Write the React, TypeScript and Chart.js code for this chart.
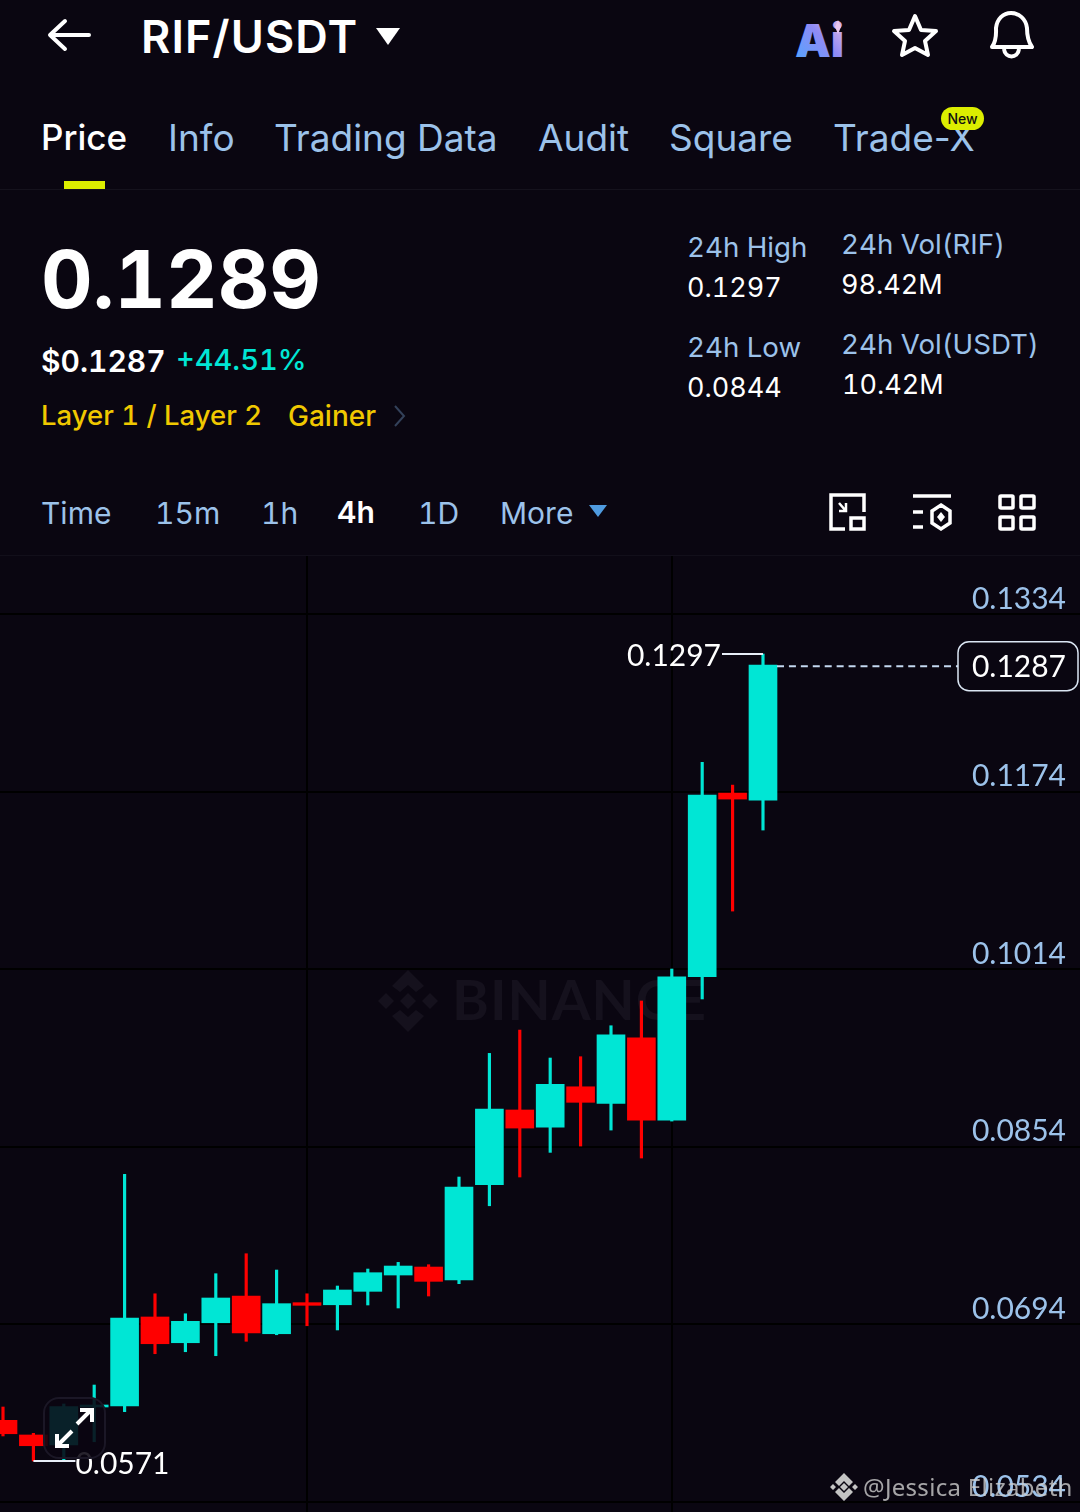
import React, { useEffect, useRef } from "react";
import { Chart, registerables } from "chart.js";

Chart.register(...registerables);

const candleIndex = [0, 1, 2, 3, 4, 5, 6, 7, 8, 9, 10, 11, 12, 13, 14, 15, 16, 17, 18, 19, 20, 21, 22, 23, 24, 25];
const opens = [0.06076, 0.05944, 0.05854, 0.06196, 0.06205, 0.07007, 0.06775, 0.06955, 0.07196, 0.06856, 0.07136, 0.07117, 0.07238, 0.07385, 0.07457, 0.0734, 0.08199, 0.08872, 0.08718, 0.09081, 0.08932, 0.09523, 0.08781, 0.10072, 0.11727, 0.11664];
const closes = [0.05955, 0.05847, 0.06199, 0.06214, 0.06998, 0.06766, 0.06968, 0.07178, 0.06863, 0.07127, 0.07112, 0.0725, 0.07406, 0.07466, 0.07328, 0.08178, 0.08881, 0.08709, 0.09103, 0.08941, 0.0955, 0.08781, 0.10072, 0.11709, 0.11673, 0.1288];
const highs = [0.06196, 0.05959, 0.06223, 0.06394, 0.08292, 0.07216, 0.07036, 0.07397, 0.07577, 0.0743, 0.07216, 0.07286, 0.07439, 0.07499, 0.07478, 0.08268, 0.09382, 0.09592, 0.0934, 0.09352, 0.09631, 0.09854, 0.10142, 0.12004, 0.11799, 0.1298];
const lows = [0.05935, 0.0571, 0.0572, 0.05883, 0.06154, 0.06676, 0.06694, 0.06658, 0.06788, 0.06847, 0.06928, 0.0689, 0.07115, 0.07088, 0.07196, 0.07307, 0.08009, 0.08268, 0.0849, 0.08547, 0.08691, 0.08439, 0.08772, 0.09872, 0.10664, 0.11394];
const yTicks = [0.1334, 0.1174, 0.1014, 0.0854, 0.0694, 0.0534];
const xGridAt = [10, 22];
const highLabel = { index: 25, value: 0.1298, text: "0.1297" };
const lowLabel = { index: 1, value: 0.0571, text: "0.0571" };
const lastPrice = { value: 0.1287, text: "0.1287" };

const BG = "#0a0611";
const UP = "#00e6d5";
const DOWN = "#ff0000";
const BLUE = "#9cc2ea";
const FONT = "Inter";
const AXIS_FONT = "Lato";

type TP = { x: number; y: number; s: number; c?: string; w?: number; t: string; ls?: number };
const texts: TP[] = [
  { x: 142, y: 36, s: 45, c: "#fff", w: 600, t: "RIF/USDT", ls: 1.1 },
  { x: 42, y: 137, s: 35, c: "#fff", w: 500, t: "Price" },
  { x: 169, y: 137, s: 37, c: BLUE, w: 400, t: "Info" },
  { x: 275, y: 137, s: 37, c: BLUE, w: 400, t: "Trading Data" },
  { x: 539, y: 137, s: 37, c: BLUE, w: 400, t: "Audit" },
  { x: 670, y: 137, s: 37, c: BLUE, w: 400, t: "Square" },
  { x: 834, y: 137, s: 37, c: BLUE, w: 400, t: "Trade-X" },
  { x: 42, y: 279, s: 80, c: "#fff", w: 700, t: "0.1289" },
  { x: 42, y: 361, s: 30, c: "#fff", w: 600, t: "$0.1287" },
  { x: 177, y: 359, s: 29, c: UP, w: 500, t: "+44.51%" },
  { x: 42, y: 416, s: 27.5, c: "#f0c800", w: 500, t: "Layer 1 / Layer 2" },
  { x: 289, y: 416, s: 28, c: "#f0c800", w: 500, t: "Gainer" },
  { x: 688, y: 248, s: 27.7, c: BLUE, t: "24h High" },
  { x: 688, y: 287, s: 27, c: "#fff", t: "0.1297" },
  { x: 842, y: 245, s: 27.7, c: BLUE, t: "24h Vol(RIF)" },
  { x: 842, y: 284, s: 27, c: "#fff", t: "98.42M" },
  { x: 688, y: 348, s: 27.7, c: BLUE, t: "24h Low" },
  { x: 688, y: 387, s: 27, c: "#fff", t: "0.0844" },
  { x: 842, y: 345, s: 27.7, c: BLUE, t: "24h Vol(USDT)" },
  { x: 843, y: 384, s: 27, c: "#fff", t: "10.42M" },
  { x: 42, y: 513, s: 30, c: BLUE, t: "Time" },
  { x: 156, y: 513, s: 30, c: BLUE, t: "15m" },
  { x: 262, y: 513, s: 30, c: BLUE, t: "1h" },
  { x: 338, y: 512, s: 30, c: "#fff", w: 600, t: "4h" },
  { x: 419, y: 513, s: 30, c: BLUE, t: "1D" },
  { x: 501, y: 513, s: 30, c: BLUE, t: "More" },
];

function Txt({ x, y, s, c, w, t, ls }: TP) {
  return (
    <div style={{ position: "absolute", left: x - 1, top: y, transform: "translateY(-50%)", fontFamily: FONT, fontSize: s, color: c, fontWeight: w ?? 400, lineHeight: 1, whiteSpace: "nowrap", letterSpacing: ls ?? 0, fontVariantNumeric: /\d/.test(t) ? "tabular-nums" : "normal" }}>
      {t}
    </div>
  );
}

const rectBox = (x: number, y: number, w: number, h: number, bg: string, extra: any = {}) => (
  <div style={{ position: "absolute", left: x, top: y, width: w, height: h, background: bg, ...extra }} />
);

const overlayPlugin = {
  id: "priceOverlay",
  afterDatasetsDraw(chart: any) {
    const { ctx, scales } = chart;
    const xs = scales.x;
    const ys = scales.y;
    ctx.save();
    ctx.font = `400 30px ${AXIS_FONT}`;
    ctx.textBaseline = "middle";
    ctx.fillStyle = "#fff";
    ctx.strokeStyle = "#e8eef8";
    ctx.lineWidth = 2;
    const hx = xs.getPixelForValue(highLabel.index);
    const hy = ys.getPixelForValue(highLabel.value);
    ctx.beginPath();
    ctx.moveTo(hx, hy);
    ctx.lineTo(hx - 41, hy);
    ctx.stroke();
    ctx.textAlign = "right";
    ctx.fillText(highLabel.text, hx - 42, hy + 2);
    const lx = xs.getPixelForValue(lowLabel.index);
    const ly = ys.getPixelForValue(lowLabel.value);
    ctx.beginPath();
    ctx.moveTo(lx, ly);
    ctx.lineTo(lx + 42, ly);
    ctx.stroke();
    ctx.textAlign = "left";
    ctx.fillText(lowLabel.text, lx + 42, ly + 3);
    const py = ys.getPixelForValue(lastPrice.value);
    ctx.strokeStyle = "#c4d8f0";
    ctx.setLineDash([7, 4.93]);
    ctx.beginPath();
    ctx.moveTo(xs.getPixelForValue(25) + 14, py);
    ctx.lineTo(958, py);
    ctx.stroke();
    ctx.setLineDash([]);
    ctx.fillStyle = BG;
    ctx.strokeStyle = "#dbe6f4";
    ctx.lineWidth = 1.5;
    ctx.beginPath();
    ctx.roundRect(958, py - 24.5, 120, 49, 11);
    ctx.fill();
    ctx.stroke();
    ctx.fillStyle = "#fff";
    ctx.textAlign = "right";
    ctx.fillText(lastPrice.text, 1066, py + 1);
    ctx.restore();
  },
};

const noPadding = (axis: any) => {
  axis.paddingTop = 0;
  axis.paddingBottom = 0;
  axis.paddingLeft = 0;
  axis.paddingRight = 0;
};

export default function App() {
  const ref = useRef<HTMLCanvasElement>(null);
  useEffect(() => {
    document.body.style.margin = "0";
    document.body.style.background = BG;
    const colors = opens.map((o, i) => (closes[i] >= o ? UP : DOWN));
    const chart = new Chart(ref.current as HTMLCanvasElement, {
      type: "bar",
      data: {
        datasets: [
          {
            label: "wick",
            data: candleIndex.map((i) => ({ x: i, y: [lows[i], highs[i]] })) as any,
            backgroundColor: colors,
            barThickness: 2.5,
            grouped: false,
            order: 2,
          } as any,
          {
            label: "body",
            data: candleIndex.map((i) => ({ x: i, y: [opens[i], closes[i]] })) as any,
            backgroundColor: colors,
            barThickness: 28,
            grouped: false,
            order: 1,
          } as any,
        ],
      },
      options: {
        animation: false,
        responsive: false,
        devicePixelRatio: 1,
        layout: { padding: 0 },
        plugins: { legend: { display: false }, tooltip: { enabled: false } },
        scales: {
          x: {
            type: "linear",
            offset: false,
            min: -0.0987,
            max: 35.428,
            afterBuildTicks: (axis: any) => {
              axis.ticks = xGridAt.map((v) => ({ value: v }));
            },
            afterFit: (axis: any) => {
              noPadding(axis);
              axis.height = 0;
            },
            ticks: { display: false },
            border: { display: false },
            grid: { color: "#000", lineWidth: 2, drawTicks: false, offset: false },
          },
          y: {
            type: "linear",
            position: "right",
            min: 0.0525,
            max: 0.13863,
            afterBuildTicks: (axis: any) => {
              axis.ticks = yTicks.map((v) => ({ value: v }));
            },
            afterFit: noPadding,
            ticks: {
              mirror: true,
              padding: -14,
              labelOffset: -15,
              color: BLUE,
              font: { family: AXIS_FONT, size: 30, weight: "400" },
              callback: (v: any) => Number(v).toFixed(4),
              autoSkip: false,
            },
            border: { display: false },
            grid: { color: "#000", lineWidth: 2, drawTicks: false },
          },
        },
      } as any,
      plugins: [overlayPlugin as any],
    });
    return () => chart.destroy();
  }, []);

  return (
    <div style={{ position: "relative", width: 1080, height: 1512, overflow: "hidden", background: BG }}>
      {texts.map((t) => <Txt key={t.t + t.x + t.y} {...t} />)}

      <svg width={1080} height={556} style={{ position: "absolute", left: 0, top: 0 }}>
        <defs>
          <linearGradient id="ai" x1="0" y1="1" x2="1" y2="0">
            <stop offset="0" stopColor="#4aa8ff" />
            <stop offset="0.55" stopColor="#8f8bf5" />
            <stop offset="1" stopColor="#f3c4e4" />
          </linearGradient>
        </defs>
        <path d="M89 35H51M65 21L50 35L65 49" fill="none" stroke="#fff" strokeWidth="4" strokeLinecap="round" strokeLinejoin="round" />
        <path d="M376 28H400L388 45Z" fill="#fff" />
        <text x="795" y="57" fontFamily={FONT} fontSize="45" fontWeight="900" fill="url(#ai)">Ai</text>
        <path d="M838 20L841 27L838 34L835 27Z" fill="#e8c6ee" />
        <path d="M915 16L921 30L936 31L925 41L928 55L915 48L902 55L905 41L894 31L909 30Z" fill="none" stroke="#fff" strokeWidth="4" strokeLinejoin="round" />
        <path d="M992 47C997 40 996 33 996 28C997 19 1003 13 1011 13C1019 13 1026 19 1027 28C1027 33 1027 40 1032 47Z" fill="none" stroke="#fff" strokeWidth="4" strokeLinejoin="round" />
        <path d="M1004 49C1005 59 1018 59 1019 49" fill="none" stroke="#fff" strokeWidth="4" />
        <path d="M395 406L404 416L395 426" fill="none" stroke="#33415a" strokeWidth="2" />
        <path d="M589 505H607L598 517Z" fill="#4f9be0" />
        <path d="M864 512V495H831V529H845" fill="none" stroke="#fff" strokeWidth="3.5" />
        <path d="M839 503L846 511M846 503V511H839" fill="none" stroke="#fff" strokeWidth="2.5" />
        <rect x="851" y="518" width="13" height="11" fill="none" stroke="#fff" strokeWidth="3.5" />
        <path d="M913 496H951M913 512H923M913 527H923" stroke="#fff" strokeWidth="3.5" />
        <path d="M941 505L950 511V523L941 529L932 523V511Z" fill="none" stroke="#fff" strokeWidth="3.5" />
        <path d="M941 512L945 517L941 522L937 517Z" fill="#fff" />
        {[[999, 495], [1020, 495], [999, 516], [1020, 516]].map(([x, y]) => (
          <rect key={`${x}-${y}`} x={x + 1} y={y + 1} width={13} height={12} rx={1} fill="none" stroke="#fff" strokeWidth="3.5" />
        ))}
      </svg>

      {rectBox(64, 181, 41, 8, "#dcee00")}
      {rectBox(0, 189, 1080, 1, "#15121d")}
      {rectBox(0, 555, 1080, 1, "#120f1a")}
      <div style={{ position: "absolute", left: 941, top: 107, width: 43, height: 23, borderRadius: 12, background: "#dcee00", color: "#111", fontFamily: FONT, fontSize: 14, fontWeight: 500, textAlign: "center", lineHeight: "23px" }}>New</div>

      <div style={{ position: "absolute", left: 452, top: 999, transform: "translateY(-50%)", fontFamily: "Lato", fontWeight: 700, fontSize: 56, letterSpacing: 1, color: "#15111d", lineHeight: 1 }}>BINANCE</div>
      <svg width={70} height={70} style={{ position: "absolute", left: 374, top: 966 }}>
        <path d="M34 4L50 20L42 26L34 19L26 26L18 20ZM34 66L18 50L26 44L34 51L42 44L50 50ZM4 35L12 27L20 35L12 43ZM48 35L56 27L64 35L56 43ZM34 27L42 35L34 43L26 35Z" fill="#15111d" />
      </svg>

      <canvas ref={ref} width={1080} height={956} style={{ position: "absolute", left: 0, top: 556, width: 1080, height: 956 }} />

      <svg width={70} height={70} style={{ position: "absolute", left: 39, top: 1393 }}>
        <rect x="5" y="5" width="61" height="60" rx="15" fill="rgba(10,6,17,0.88)" stroke="#1b1726" strokeWidth="2" />
        <path d="M38 31L52 17M41 17H53V29M33 38L18 53M18 41V53H30" fill="none" stroke="#fff" strokeWidth="4" />
      </svg>

      <svg width={30} height={30} style={{ position: "absolute", left: 829, top: 1472 }}>
        <path d="M15 1L24 10L20 14L15 9L10 14L6 10ZM15 29L6 20L10 16L15 21L20 16L24 20ZM1 15L4 12L7 15L4 18ZM23 15L26 12L29 15L26 18ZM15 11L19 15L15 19L11 15Z" fill="#c4c4c4" />
      </svg>
      <div style={{ position: "absolute", left: 863, top: 1487, transform: "translateY(-50%)", fontFamily: "'Noto Sans'", fontSize: 24, letterSpacing: 0.3, color: "rgba(205,205,205,0.8)", lineHeight: 1, whiteSpace: "nowrap" }}>@Jessica Elizabeth</div>
    </div>
  );
}
